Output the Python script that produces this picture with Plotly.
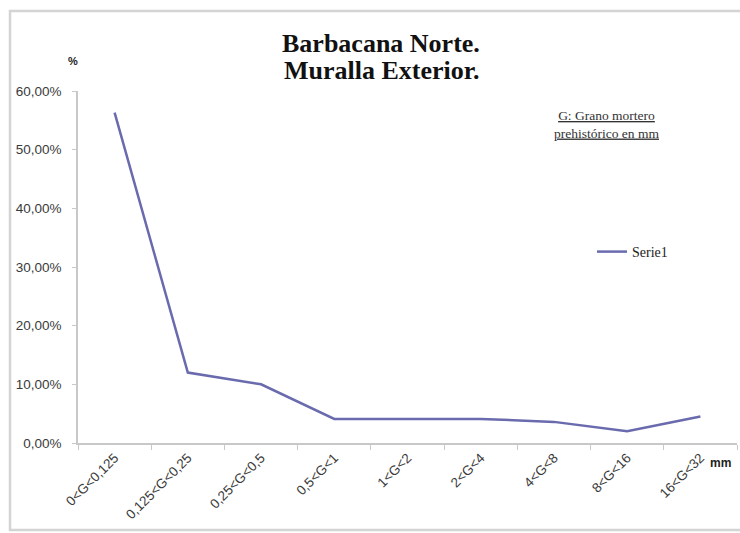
import plotly.graph_objects as go

# Grain size classes (mm) and share of each class (%)
categories = ["0&lt;G&lt;0,125", "0,125&lt;G&lt;0,25", "0,25&lt;G&lt;0,5", "0,5&lt;G&lt;1",
              "1&lt;G&lt;2", "2&lt;G&lt;4", "4&lt;G&lt;8", "8&lt;G&lt;16", "16&lt;G&lt;32"]
serie1 = [56.3, 12.0, 10.0, 4.1, 4.1, 4.1, 3.6, 2.0, 4.5]
y_ticks = [0, 10, 20, 30, 40, 50, 60]

W, H = 740, 533
L, R, T, B = 78, 3, 91, 90
pw, ph = W - L - R, H - T - B


def px(x):
    return (x - L) / pw


def py(y):
    return (H - B - y) / ph


fig = go.Figure()
fig.add_trace(go.Scatter(
    x=categories, y=[v / 100 for v in serie1], mode="lines", name="Serie1",
    line=dict(color="#6a6aae", width=2.5),
))

grey_txt = "#3a3a3a"
tick_font = dict(family="Liberation Sans", size=13.5, color=grey_txt)
fig.update_layout(
    width=W, height=H,
    margin=dict(l=L, r=R, t=T, b=B),
    paper_bgcolor="white", plot_bgcolor="white",
    separators=", ",
    showlegend=True,
    legend=dict(x=px(592), y=py(252), xanchor="left", yanchor="middle",
                font=dict(family="Liberation Serif", size=14, color="#222"),
                bgcolor="rgba(0,0,0,0)", itemwidth=30),
    xaxis=dict(
        type="category", tickangle=-45, showgrid=False, showline=True,
        linecolor="#c8c8c8", linewidth=1.5, ticks="outside", tickson="boundaries",
        ticklen=5, tickcolor="#c8c8c8", range=[-0.5, len(categories) - 0.5],
        tickfont=tick_font,
    ),
    yaxis=dict(
        range=[0, 0.6], tickvals=[v / 100 for v in y_ticks], tickformat=".2%",
        showgrid=False, showline=True, linecolor="#c8c8c8", linewidth=1.5,
        ticks="outside", ticklen=4, tickcolor="#c8c8c8", zeroline=False,
        ticklabelstandoff=8, tickfont=tick_font,
    ),
    annotations=[
        dict(text="<b>Barbacana Norte.</b>", x=px(381), y=py(44),
             xref="paper", yref="paper", showarrow=False, xanchor="center", yanchor="middle",
             font=dict(family="Liberation Serif", size=26, color="#111")),
        dict(text="<b>Muralla Exterior.</b>", x=px(381), y=py(70),
             xref="paper", yref="paper", showarrow=False, xanchor="center", yanchor="middle",
             font=dict(family="Liberation Serif", size=26, color="#111")),
        dict(text="<b>%</b>", x=px(66), y=py(53), xref="paper", yref="paper",
             showarrow=False, font=dict(family="Liberation Sans", size=11, color="#222")),
        dict(text="<b>mm</b>", x=px(720), y=py(472), xref="paper", yref="paper",
             showarrow=False, xanchor="center", font=dict(family="Liberation Sans", size=12, color="#222")),
        dict(text="<u>G: Grano mortero</u><br><u>prehistórico en mm</u>", x=px(606), y=py(125),
             xref="paper", yref="paper", showarrow=False, xanchor="center", yanchor="middle",
             font=dict(family="Liberation Serif", size=13.5, color="#333")),
    ],
    shapes=[
        dict(type="rect", xref="paper", yref="paper", x0=px(10), x1=px(760),
             y0=py(530), y1=py(11), line=dict(color="#d4d4d4", width=2.5)),
    ],
)

fig.write_html("out.html")
